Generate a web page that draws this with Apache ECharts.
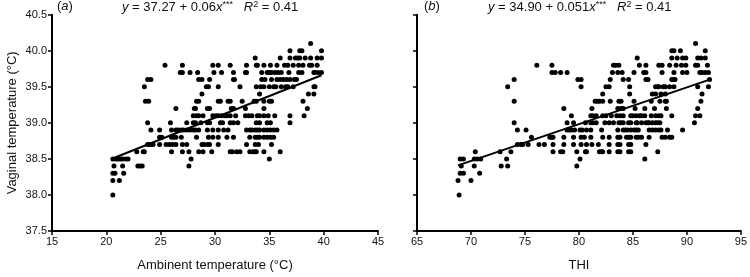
<!DOCTYPE html>
<html>
<head>
<meta charset="utf-8">
<script src="https://cdn.jsdelivr.net/npm/echarts@6/dist/echarts.min.js"></script>
<style>
html,body{margin:0;padding:0;background:#fff;}
#container{width:750px;height:277px;}
</style>
</head>
<body>
<div id="container"></div>
<script>
// y levels (vaginal temperature, °C) shared by both panels
var levels = [40.1, 40.0, 39.9, 39.8, 39.7, 39.6, 39.5, 39.4, 39.3, 39.2, 39.1, 39.0, 38.9, 38.8, 38.7, 38.6, 38.5, 38.4, 38.3, 38.2, 38.0];

// (a) ambient temperature values for each level
var ambRows = [
  [38.8],
  [36.9, 37.8, 38.0, 39.8],
  [33.7, 36.0, 36.9, 37.4, 37.6, 37.8, 38.3, 38.8, 39.4, 39.8],
  [25.4, 27.0, 29.8, 30.3, 31.4, 32.9, 33.8, 33.9, 34.5, 35.1, 35.7, 36.4, 36.7, 37.2, 37.7, 38.1, 38.7, 38.9, 39.4],
  [26.8, 27.0, 27.7, 28.4, 29.9, 30.6, 31.7, 32.8, 32.9, 34.3, 34.8, 35.0, 35.2, 35.5, 35.8, 36.1, 36.8, 37.7, 38.0, 39.1, 39.2, 39.5, 39.8],
  [23.8, 24.1, 28.5, 28.8, 29.5, 31.7, 31.8, 34.3, 34.6, 35.2, 35.7, 36.0, 36.3, 36.6, 36.9, 37.3, 37.5],
  [23.5, 29.2, 29.4, 30.3, 32.3, 33.8, 34.2, 34.5, 35.0, 35.4, 35.6, 36.1, 36.5, 36.7, 37.2, 39.1, 39.2],
  [28.8, 34.1, 38.6, 39.1],
  [23.6, 23.9, 28.3, 28.5, 30.3, 30.5, 31.2, 31.4, 32.5, 33.6, 33.8, 34.5, 35.0, 35.2, 38.1],
  [26.4, 28.1, 28.2, 29.3, 29.5, 31.5, 31.7, 32.8, 34.5, 38.5],
  [28.0, 28.3, 28.5, 28.9, 29.8, 30.1, 30.3, 30.6, 30.9, 31.1, 31.4, 31.9, 32.8, 33.1, 33.4, 33.9, 34.1, 34.5, 34.9, 35.5, 36.9, 38.2],
  [23.8, 25.9, 27.4, 28.0, 28.2, 28.7, 29.3, 29.5, 30.5, 30.7, 31.4, 31.7, 32.1, 33.8, 34.1, 34.8, 35.1, 36.9],
  [24.1, 24.9, 26.0, 26.4, 26.6, 26.9, 27.1, 27.4, 27.7, 28.0, 28.2, 28.5, 29.3, 29.8, 30.3, 30.8, 31.2, 32.9, 33.2, 33.4, 33.7, 33.9, 34.1, 34.5, 34.8, 35.1, 35.4, 35.7],
  [24.9, 25.1, 26.0, 26.2, 26.4, 26.9, 28.3, 29.4, 29.8, 30.3, 31.1, 31.7, 33.2, 33.7, 33.9, 34.1, 34.5, 34.8, 35.1, 35.4],
  [23.8, 24.0, 24.2, 24.3, 24.9, 25.5, 25.8, 26.1, 26.4, 27.0, 27.4, 28.8, 29.0, 29.3, 29.5, 30.3, 32.9, 33.7, 34.0, 35.2],
  [22.8, 23.4, 23.5, 26.0, 27.0, 27.6, 28.5, 28.9, 29.7, 31.4, 31.6, 32.0, 32.3, 33.2, 33.5, 33.7, 33.8, 34.5, 36.0],
  [20.6, 20.9, 21.1, 21.3, 21.5, 21.8, 22.0, 27.8, 35.0],
  [20.7, 21.5, 22.9, 23.1, 23.3, 27.6],
  [20.6, 20.8, 21.6],
  [20.6, 21.2],
  [20.6]
];

// (b) THI values for each level
var thiRows = [
  [90.8],
  [88.6, 88.8, 89.4, 91.7],
  [85.4, 88.6, 89.1, 89.6, 89.9, 91.0, 91.3, 91.7],
  [76.1, 77.5, 83.2, 83.4, 83.7, 85.6, 86.2, 87.4, 87.7, 88.4, 89.0, 89.5, 89.9, 90.8, 91.0, 91.9],
  [77.5, 77.8, 78.3, 78.9, 83.1, 83.6, 84.0, 85.1, 86.0, 86.2, 87.7, 88.8, 89.6, 90.0, 91.2, 91.4, 91.7, 92.0],
  [74.0, 79.9, 80.2, 82.9, 84.1, 84.6, 86.2, 86.4, 88.6, 88.8, 88.9, 92.1],
  [73.4, 80.2, 82.5, 82.8, 84.7, 87.1, 87.3, 87.4, 87.8, 88.0, 88.4, 88.8, 91.0, 92.0],
  [82.2, 84.7, 86.8, 87.1, 87.6, 88.0, 91.4],
  [74.0, 81.5, 81.7, 81.9, 82.2, 82.9, 83.7, 83.9, 85.1, 86.7, 87.5, 88.0, 88.1, 91.3],
  [78.6, 81.2, 83.6, 83.9, 84.1, 85.2, 86.1, 87.0, 88.1, 91.0],
  [79.3, 81.1, 81.3, 81.6, 82.2, 82.5, 83.0, 83.5, 83.8, 84.1, 84.8, 85.0, 85.3, 85.6, 85.8, 86.1, 86.7, 87.1, 87.4, 87.6, 88.6, 90.8, 91.2],
  [74.0, 78.9, 79.5, 80.6, 81.1, 81.3, 81.6, 82.4, 82.8, 83.2, 83.7, 83.9, 84.1, 84.6, 84.8, 85.3, 85.4, 85.8, 86.2, 86.4, 86.5, 86.8, 87.1, 87.3, 87.5, 90.7],
  [74.3, 75.1, 78.9, 79.1, 79.3, 79.6, 80.1, 80.3, 80.7, 81.1, 82.1, 83.6, 84.1, 84.3, 84.5, 84.8, 85.1, 85.3, 85.5, 86.5, 86.8, 87.1, 87.4, 87.6, 88.2, 89.6],
  [75.6, 77.3, 77.5, 77.6, 78.6, 79.5, 80.2, 80.5, 81.1, 82.2, 82.8, 83.6, 83.8, 84.4, 84.6, 84.8, 85.3, 85.5, 85.8, 86.5, 87.7, 88.0, 88.4, 88.6],
  [74.3, 74.6, 74.8, 75.3, 76.3, 76.8, 77.6, 78.6, 79.5, 80.2, 80.7, 81.2, 81.8, 82.8, 83.6, 83.8, 84.6, 84.8, 86.2],
  [70.4, 72.7, 73.7, 77.6, 78.3, 78.5, 79.8, 80.6, 80.7, 81.9, 82.1, 82.2, 82.8, 83.6, 83.8, 84.6, 84.8, 87.3],
  [69.0, 69.3, 70.3, 70.6, 70.9, 73.3, 80.1, 86.1],
  [69.1, 70.3, 72.8, 73.4, 79.8],
  [69.0, 69.3, 70.8],
  [68.8, 70.0],
  [68.9]
];

// fitted lines (end points from the printed equations)
var fitA = [[20.8, 38.52], [39.8, 39.66]];
var fitB = [[68.8, 38.41], [92.1, 39.60]];

var yTicks = {min: 37.5, max: 40.5, interval: 0.5};

function toPairs(rows){
  var out = [];
  for (var i = 0; i < rows.length; ++i) {
    for (var j = 0; j < rows[i].length; ++j) {
      out.push([rows[i][j], levels[i]]);
    }
  }
  return out;
}

var font = 'Liberation Sans, Arial, sans-serif';
var myChart = echarts.init(document.getElementById('container'));

function axisCommon(){
  return {
    axisLine: {show: true, onZero: false, lineStyle: {color: '#000', width: 2}},
    axisTick: {show: true, inside: false, length: 4, lineStyle: {color: '#000', width: 1.5}},
    splitLine: {show: false},
    axisLabel: {color: '#111', fontSize: 11, fontFamily: font, margin: 5},
    nameTextStyle: {color: '#111', fontSize: 13, fontFamily: font}
  };
}

function xAx(idx, min, max, name){
  var a = axisCommon();
  a.type = 'value'; a.gridIndex = idx; a.min = min; a.max = max; a.interval = 5;
  a.name = name; a.nameLocation = 'middle'; a.nameGap = 28;
  return a;
}
function yAx(idx, showLabel){
  var a = axisCommon();
  a.type = 'value'; a.gridIndex = idx; a.min = yTicks.min; a.max = yTicks.max; a.interval = yTicks.interval;
  a.axisLabel.show = showLabel;
  a.axisLabel.formatter = function(v){ return v.toFixed(1); };
  if (showLabel) {
    a.name = 'Vaginal temperature (°C)'; a.nameLocation = 'middle'; a.nameGap = 33;
  }
  return a;
}

var eqRich = {
  n: {fontSize: 13, fontFamily: font, color: '#111', fontWeight: 'normal'},
  i: {fontSize: 13, fontFamily: font, color: '#111', fontWeight: 'normal', fontStyle: 'italic'},
  s: {fontSize: 9, fontFamily: font, color: '#111', fontWeight: 'normal', verticalAlign: 'top', padding: [0, 0, 5, 0]}
};
var titleText = {fontWeight: 'normal', fontSize: 13, rich: eqRich};

option = {
  animation: false,
  backgroundColor: '#fff',
  title: [
    {text: '{n|(}{i|a}{n|)}', left: 57, top: 0, padding: 0, textStyle: titleText},
    {text: '{i|y}{n| = 37.27 + 0.06}{i|x}{s|***}{n|   }{i|R}{s|2}{n| = 0.41}', left: 122, top: 0, padding: 0, textStyle: titleText},
    {text: '{n|(}{i|b}{n|)}', left: 424, top: 0, padding: 0, textStyle: titleText},
    {text: '{i|y}{n| = 34.90 + 0.051}{i|x}{s|***}{n|   }{i|R}{s|2}{n| = 0.41}', left: 488, top: 0, padding: 0, textStyle: titleText}
  ],
  grid: [
    {left: 52, right: 372, top: 14.7, bottom: 46},
    {left: 417, right: 6, top: 14.7, bottom: 46}
  ],
  xAxis: [
    xAx(0, 15, 45, 'Ambinent temperature (°C)'),
    xAx(1, 65, 95, 'THI')
  ],
  yAxis: [yAx(0, true), yAx(1, false)],
  series: [
    {type: 'scatter', xAxisIndex: 0, yAxisIndex: 0, symbolSize: 5, itemStyle: {color: '#000', opacity: 1}, data: toPairs(ambRows)},
    {type: 'line', xAxisIndex: 0, yAxisIndex: 0, showSymbol: false, lineStyle: {color: '#000', width: 2}, data: fitA},
    {type: 'scatter', xAxisIndex: 1, yAxisIndex: 1, symbolSize: 5, itemStyle: {color: '#000', opacity: 1}, data: toPairs(thiRows)},
    {type: 'line', xAxisIndex: 1, yAxisIndex: 1, showSymbol: false, lineStyle: {color: '#000', width: 2}, data: fitB}
  ]
};
myChart.setOption(option);
</script>
</body>
</html>
